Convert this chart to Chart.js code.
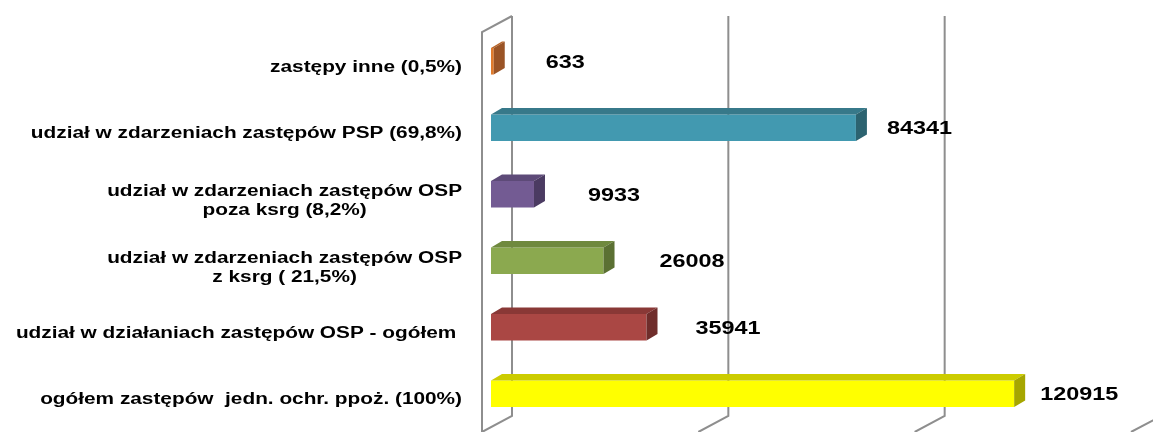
<!DOCTYPE html>
<html>
<head>
<meta charset="utf-8">
<script src="https://cdn.jsdelivr.net/npm/chart.js@4"></script>
<style>
html, body { margin: 0; padding: 0; background: #fff; }
</style>
</head>
<body>
<canvas id="myChart" width="1153" height="432"></canvas>
<script>
// categories, top to bottom
const labels = [
    'zastępy inne (0,5%)',
    'udział w zdarzeniach zastępów PSP (69,8%)',
    ['udział w zdarzeniach zastępów OSP', 'poza ksrg (8,2%)'],
    ['udział w zdarzeniach zastępów OSP', 'z ksrg ( 21,5%)'],
    'udział w działaniach zastępów OSP - ogółem ',
    'ogółem zastępów  jedn. ochr. ppoż. (100%)'
];
const values = [633, 84341, 9933, 26008, 35941, 120915];
const gridTicks = [0, 50000, 100000, 150000];

const frontColors = ['#E07B2C', '#4299B0', '#735B93', '#8BA94F', '#AA4744', '#FFFF00'];
const topColors = ['#B86428', '#37798A', '#5D4A78', '#6F893E', '#893836', '#CCCC00'];
const sideColors = ['#9A5426', '#2C6370', '#4B3B62', '#5B7033', '#6F2D2B', '#A6A600'];

const depth = { wallX: 30, wallY: 16, barShiftX: 9, barShiftY: 5, barX: 11, barY: 6.5 };
const valueGap = [52, 31, 54, 56, 49, 26];
const stretch = 1.3;

const bars3d = {
    id: 'bars3d',
    beforeDatasetsDraw(chart) {
        const ctx = chart.ctx;
        const xs = chart.scales.x;
        const area = chart.chartArea;
        const frontTop = area.top - 1;
        const frontBottom = area.bottom;
        ctx.save();
        ctx.strokeStyle = '#8e8e8e';
        ctx.lineWidth = 2;
        // left wall
        const x0 = xs.getPixelForValue(0);
        ctx.beginPath();
        ctx.moveTo(x0, frontBottom);
        ctx.lineTo(x0, frontTop);
        ctx.lineTo(x0 + depth.wallX, frontTop - depth.wallY);
        ctx.stroke();
        // back grid lines + floor lines
        gridTicks.forEach(function (t) {
            const px = xs.getPixelForValue(t);
            ctx.beginPath();
            ctx.moveTo(px + depth.wallX, frontTop - depth.wallY);
            ctx.lineTo(px + depth.wallX, frontBottom - depth.wallY);
            ctx.lineTo(px, frontBottom);
            ctx.stroke();
        });
        ctx.restore();
        ctx.save();
        ctx.translate(depth.barShiftX, -depth.barShiftY);
    },
    afterDatasetsDraw(chart) {
        const ctx = chart.ctx;
        const meta = chart.getDatasetMeta(0);
        meta.data.forEach(function (bar, i) {
            const p = bar.getProps(['x', 'y', 'base', 'height'], true);
            const top = p.y - p.height / 2;
            const bottom = p.y + p.height / 2;
            ctx.fillStyle = topColors[i];
            ctx.beginPath();
            ctx.moveTo(p.base, top);
            ctx.lineTo(p.x, top);
            ctx.lineTo(p.x + depth.barX, top - depth.barY);
            ctx.lineTo(p.base + depth.barX, top - depth.barY);
            ctx.closePath();
            ctx.fill();
            ctx.fillStyle = sideColors[i];
            ctx.beginPath();
            ctx.moveTo(p.x, top);
            ctx.lineTo(p.x + depth.barX, top - depth.barY);
            ctx.lineTo(p.x + depth.barX, bottom - depth.barY);
            ctx.lineTo(p.x, bottom);
            ctx.closePath();
            ctx.fill();
        });
        ctx.restore();
    },
    afterDraw(chart) {
        const ctx = chart.ctx;
        const ys = chart.scales.y;
        const meta = chart.getDatasetMeta(0);
        const labelRight = chart.chartArea.left - 20;
        ctx.save();
        ctx.fillStyle = '#000';
        ctx.textBaseline = 'middle';
        // category labels, lines centred, block right aligned
        ctx.font = 'bold 16px "Liberation Sans", Arial, sans-serif';
        labels.forEach(function (lab, i) {
            const lines = Array.isArray(lab) ? lab : [lab];
            const w = Math.max.apply(null, lines.map(function (l) { return ctx.measureText(l).width; }));
            const cy = ys.getPixelForValue(i) + (lines.length > 1 ? 2 : 1);
            const lh = 19;
            ctx.save();
            ctx.translate(labelRight, cy);
            ctx.scale(stretch, 1);
            ctx.textAlign = 'center';
            lines.forEach(function (l, k) {
                ctx.fillText(l, -w / 2, (k - (lines.length - 1) / 2) * lh);
            });
            ctx.restore();
        });
        // value labels
        ctx.font = 'bold 18px "Liberation Sans", Arial, sans-serif';
        ctx.textAlign = 'left';
        meta.data.forEach(function (bar, i) {
            const p = bar.getProps(['x', 'y'], true);
            ctx.save();
            ctx.translate(p.x + depth.barShiftX + valueGap[i], p.y - depth.barShiftY + 1.5);
            ctx.scale(stretch, 1);
            ctx.fillText(String(values[i]), 0, 0);
            ctx.restore();
        });
        ctx.restore();
    }
};

const ctx = document.getElementById('myChart').getContext('2d');
const myChart = new Chart(ctx, {
    type: 'bar',
    data: {
        labels: labels,
        datasets: [{
            data: values,
            backgroundColor: frontColors,
            borderWidth: 0,
            barPercentage: 0.4,
            categoryPercentage: 1.0,
            clip: false
        }]
    },
    options: {
        indexAxis: 'y',
        responsive: false,
        animation: false,
        layout: { padding: { top: 33, right: 22, bottom: 0, left: 0 } },
        plugins: {
            legend: { display: false },
            tooltip: { enabled: false }
        },
        scales: {
            x: { display: false, min: 0, max: 150000 },
            y: {
                afterFit: function (scale) { scale.width = 482; },
                grid: { display: false, drawTicks: false },
                border: { display: false },
                ticks: { display: false }
            }
        }
    },
    plugins: [bars3d]
});
</script>
</body>
</html>
